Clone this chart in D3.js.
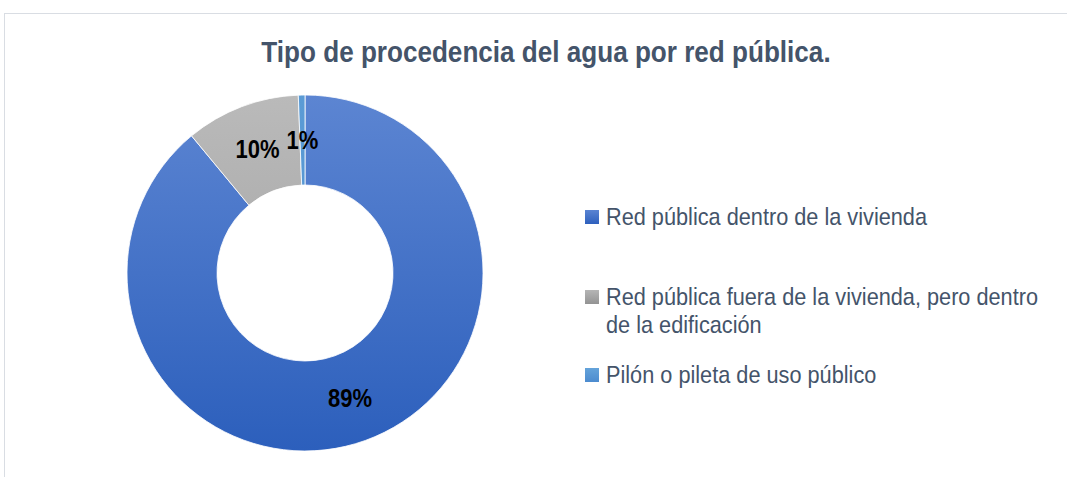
<!DOCTYPE html>
<html><head><meta charset="utf-8">
<script src="https://cdn.jsdelivr.net/npm/d3@7"></script>
<style>
html,body{margin:0;padding:0;background:#fff;}
svg{display:block;}
</style></head>
<body>
<svg id="chart" width="1067" height="477"></svg>
<script>
const title = "Tipo de procedencia del agua por red pública.";
const categories = ["Red pública dentro de la vivienda", "Red pública fuera de la vivienda, pero dentro de la edificación", "Pilón o pileta de uso público"];
const legendLines = [["Red pública dentro de la vivienda"], ["Red pública fuera de la vivienda, pero dentro", "de la edificación"], ["Pilón o pileta de uso público"]];
const values = [89.0, 10.4, 0.6];
const labels = ["89%", "10%", "1%"];

const FONT = "'Liberation Sans Narrow','Arial Narrow','Liberation Sans',Arial,sans-serif";
const svg = d3.select("#chart");
const defs = svg.append("defs");

const cx = 305, cy = 273, R = 178, r = 88;

const grads = [
  {id:"g0", top:"#5c85d2", bot:"#2c5fbc"},
  {id:"g1", top:"#bababa", bot:"#9c9c9c"},
  {id:"g2", top:"#5b9bd5", bot:"#4f8fd0"}
];
grads.forEach(g => {
  const lg = defs.append("linearGradient").attr("id", g.id)
    .attr("gradientUnits","userSpaceOnUse").attr("x1",0).attr("x2",0).attr("y1",-R).attr("y2",R);
  lg.append("stop").attr("offset","0%").attr("stop-color",g.top);
  lg.append("stop").attr("offset","100%").attr("stop-color",g.bot);
});
const lgrads = [
  {id:"l0", top:"#5a84d2", bot:"#2e60bd"},
  {id:"l1", top:"#b5b5b5", bot:"#939393"},
  {id:"l2", top:"#64a3da", bot:"#4c8bcf"}
];
lgrads.forEach(g => {
  const lg = defs.append("linearGradient").attr("id", g.id).attr("x1",0).attr("x2",0).attr("y1",0).attr("y2",1);
  lg.append("stop").attr("offset","0%").attr("stop-color",g.top);
  lg.append("stop").attr("offset","100%").attr("stop-color",g.bot);
});

// frame
svg.append("rect").attr("x",4.5).attr("y",13.5).attr("width",1080).attr("height",480)
  .attr("fill","none").attr("stroke","#d9dde3").attr("stroke-width",1);

// title
svg.append("g").attr("transform","translate(546,62) scale(0.9,1)")
  .append("text").attr("x",0).attr("y",0).attr("text-anchor","middle")
  .attr("font-family",FONT).attr("font-weight","bold").attr("font-size",29)
  .attr("fill","#44546a").text(title);

const pie = d3.pie().sort(null).value(d => d)(values);
const arc = d3.arc().innerRadius(r).outerRadius(R);
const labelArc = d3.arc().innerRadius((R+r)/2).outerRadius((R+r)/2);

const g = svg.append("g").attr("transform",`translate(${cx},${cy})`);
const fills = ["url(#g0)","url(#g1)","url(#g2)"];
g.selectAll("path").data(pie).join("path")
  .attr("d", arc).attr("fill",(d,i)=>fills[i])
  .attr("stroke","#ffffff").attr("stroke-width",0.8);

g.selectAll("g.lbl").data(pie).join("g").attr("class","lbl")
  .attr("transform", d => `translate(${labelArc.centroid(d)}) scale(0.88,1)`)
  .append("text")
  .attr("text-anchor","middle").attr("dy","0.36em")
  .attr("font-family",FONT).attr("font-weight","bold").attr("font-size",25)
  .attr("fill","#000").text((d,i)=>labels[i]);

// legend
const legY = [225, 305, 383];
const lfills = ["url(#l0)","url(#l1)","url(#l2)"];
const leg = svg.append("g");
categories.forEach((c,i) => {
  leg.append("rect").attr("x",585).attr("y",legY[i]-15).attr("width",14).attr("height",14).attr("fill",lfills[i]);
  const t = leg.append("g").attr("transform",`translate(606,${legY[i]}) scale(0.905,1)`)
    .append("text").attr("x",0).attr("y",0)
    .attr("font-family",FONT).attr("font-size",24).attr("fill","#44546a");
  legendLines[i].forEach((ln,j) => {
    t.append("tspan").attr("x",0).attr("y",j*28).text(ln);
  });
});
</script>
</body></html>
